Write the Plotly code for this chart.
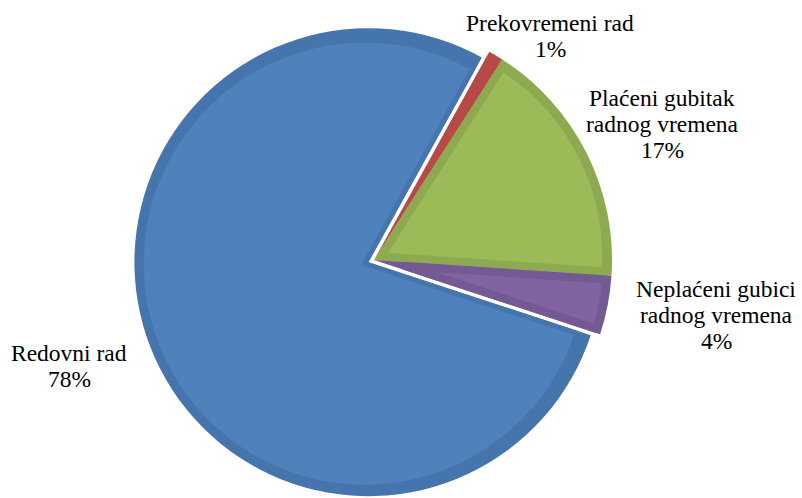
import math
import plotly.graph_objects as go

# data
labels = ['Prekovremeni rad', 'Plaćeni gubitak<br>radnog vremena',
          'Neplaćeni gubici<br>radnog vremena', 'Redovni rad']
values = [1, 17, 4, 78]
fill_colors = ['#C0504D', '#9BBB59', '#8064A2', '#4F81BD']
rim_colors = ['#B74A47', '#8DAA50', '#735A93', '#4674AC']

# look
W, H = 802, 498
ROT = 29                    # first slice starts here (deg, clockwise from 12 o'clock)
APEX = (374, 260)           # centre of the pie in px
R_SMALL, R_BIG = 238, 234   # radius of the small slices / of Redovni rad
EXPLODE = 6                 # px that Redovni rad is pulled out
RIM = 9                     # darker bevel width
SERIF = '"Times New Roman", "Liberation Serif", serif'
FONT = dict(family=SERIF, size=23.5, color='#000000')
LABEL_POS = [(550, 23), (662, 98), (716, 289), (69, 353)]   # px centre of first label line
LINE_STEP = 26

total = float(sum(values))
n = len(values)
CLEAR = 'rgba(0,0,0,0)'


def unit(deg):
    a = math.radians(deg)
    return math.sin(a), -math.cos(a)


def wedge(i, cx, cy, r, color, line_w=0, line_c=None):
    cols = [CLEAR] * n
    cols[i] = color
    lw = [0] * n
    lw[i] = line_w
    lc = [CLEAR] * n
    lc[i] = line_c or color
    return go.Pie(values=values, labels=[l.replace('<br>', ' ') for l in labels],
                  sort=False, direction='clockwise', rotation=ROT,
                  marker=dict(colors=cols, line=dict(width=lw, color=lc)),
                  textinfo='none', hoverinfo='skip', showlegend=False,
                  domain=dict(x=[(cx - r) / W, (cx + r) / W],
                              y=[1 - (cy + r) / H, 1 - (cy - r) / H]))


fig = go.Figure()
cum = 0.0
for i, v in enumerate(values):
    span = 360 * v / total
    mid = ROT + 360 * cum / total + span / 2
    cum += v
    ux, uy = unit(mid)
    big = labels[i].startswith('Redovni')
    R = R_BIG if big else R_SMALL
    cx, cy = APEX
    if big:
        cx, cy = cx + EXPLODE * ux, cy + EXPLODE * uy
    # dark base wedge
    fig.add_trace(wedge(i, cx, cy, R, rim_colors[i]))
    # lighter inner wedge (shifted along bisector so the radial edges get a rim too)
    half = math.radians(span / 2)
    s = 2.5 if big else 4.0
    d = s / math.sin(half)
    r_in = R - d + s - RIM
    if r_in > 20:
        fig.add_trace(wedge(i, cx + d * ux, cy + d * uy, r_in, fill_colors[i],
                            line_w=2 * s, line_c=rim_colors[i]))

annotations = []
for lab, v, (px, py) in zip(labels, values, LABEL_POS):
    lines = lab.split('<br>') + ['%d%%' % round(100 * v / total)]
    for k, line in enumerate(lines):
        annotations.append(dict(text=line, x=px / W, y=1 - (py + k * LINE_STEP) / H,
                                xref='paper', yref='paper', showarrow=False,
                                xanchor='center', yanchor='middle', font=FONT))

fig.update_layout(width=W, height=H, margin=dict(l=0, r=0, t=0, b=0),
                  paper_bgcolor='#FFFFFF', plot_bgcolor='#FFFFFF',
                  font=FONT, showlegend=False, annotations=annotations)

# page body has an 8px default margin; drop it so the figure sits at 0,0
fig.write_html('out.html', config={'displayModeBar': False},
               post_script="document.body.style.margin='0';")
